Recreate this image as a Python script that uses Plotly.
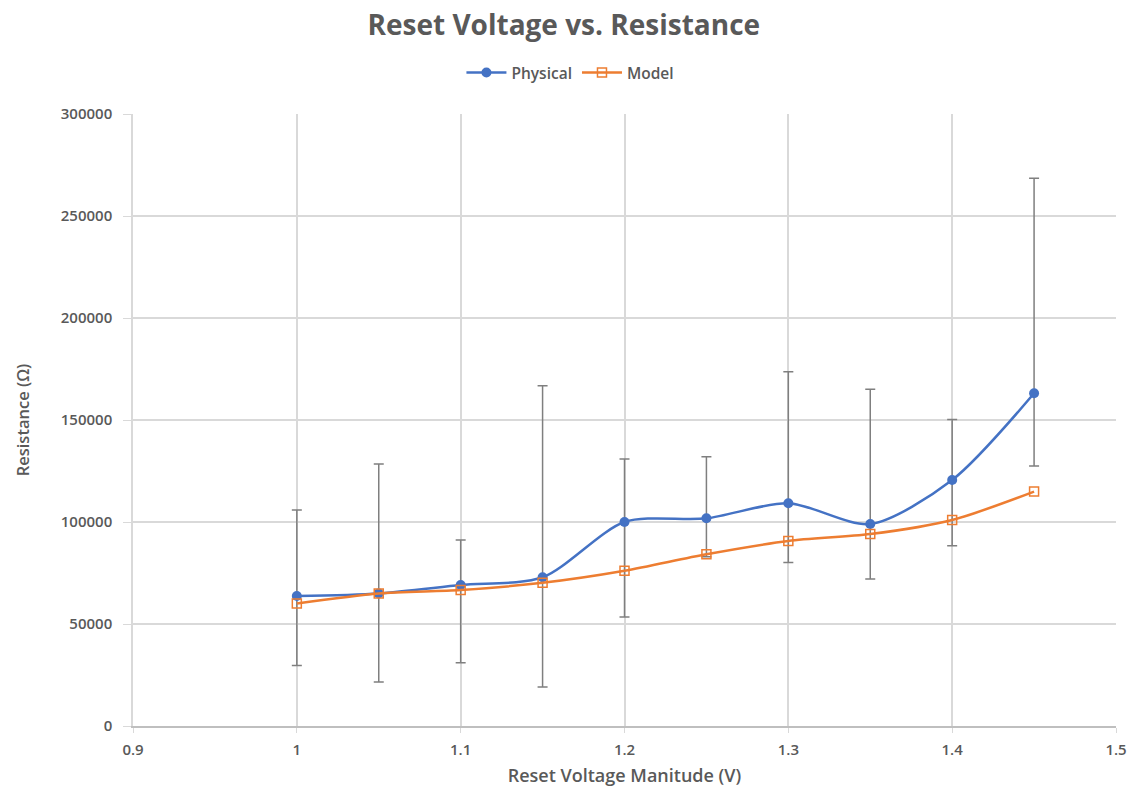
import plotly.graph_objects as go

voltage = [1.0, 1.05, 1.1, 1.15, 1.2, 1.25, 1.3, 1.35, 1.4, 1.45]
physical = [63700, 65000, 69100, 72900, 100000, 101800, 109200, 99000, 120600, 163100]
physical_high = [105900, 128400, 91200, 166800, 130900, 132000, 173700, 165100, 150300, 268500]
physical_low = [29600, 21600, 31000, 19100, 53400, 83000, 80200, 72100, 88400, 127500]
model = [60100, 65000, 66700, 70200, 76100, 84200, 90700, 94100, 101000, 114900]

err_plus = [h - v for h, v in zip(physical_high, physical)]
err_minus = [v - l for v, l in zip(physical, physical_low)]

FONT = "Open Sans"
GRAY = "#595959"

fig = go.Figure()
fig.add_trace(go.Scatter(
    x=voltage, y=physical, name="Physical", mode="lines+markers",
    line=dict(color="#4472C4", width=2.5, shape="spline", smoothing=0.8),
    marker=dict(symbol="circle", size=10, color="#4472C4"),
    error_y=dict(type="data", symmetric=False, array=err_plus, arrayminus=err_minus,
                 color="#7f7f7f", thickness=1.5, width=5),
))
fig.add_trace(go.Scatter(
    x=voltage, y=model, name="Model", mode="lines+markers",
    line=dict(color="#ED7D31", width=2.5, shape="spline", smoothing=0.8),
    marker=dict(symbol="square-open", size=9, color="#ED7D31", line=dict(width=1.5)),
))

fig.update_layout(
    width=1139, height=797,
    margin=dict(l=133, r=19, t=114, b=71),
    paper_bgcolor="white", plot_bgcolor="white",
    font=dict(family=FONT, color=GRAY, size=14),
    title=dict(text="<b>Reset Voltage vs. Resistance</b>", x=0.495, xanchor="center",
               y=0.969, yanchor="middle", font=dict(size=28, color=GRAY, family=FONT)),
    legend=dict(orientation="h", x=0.445, xanchor="center", y=1.067, yanchor="middle",
                font=dict(size=15.5, color=GRAY, weight=600), itemwidth=40),
    showlegend=True,
)
fig.update_xaxes(
    range=[0.9, 1.5], dtick=0.1, tick0=0.9,
    showgrid=True, gridcolor="#d9d9d9", gridwidth=1.5,
    showline=True, linecolor="#bfbfbf", linewidth=1.5,
    ticks="outside", ticklen=5, tickcolor="#d9d9d9", ticklabelstandoff=4,
    tickfont=dict(size=15, color=GRAY, weight=600), zeroline=False,
    title=dict(text="Reset Voltage Manitude (V)", font=dict(size=18, color=GRAY, weight=600), standoff=12),
)
fig.update_yaxes(
    range=[0, 300000], dtick=50000, tickformat="d",
    showgrid=True, gridcolor="#d9d9d9", gridwidth=1.5,
    showline=True, linecolor="#d9d9d9", linewidth=1.5, zeroline=False,
    ticks="outside", ticklen=8, tickcolor="#d9d9d9", ticklabelstandoff=8,
    tickfont=dict(size=15, color=GRAY, weight=600),
    title=dict(text="Resistance (Ω)", font=dict(size=16.5, color=GRAY, weight=600), standoff=27),
)

fig.write_html("out.html")
